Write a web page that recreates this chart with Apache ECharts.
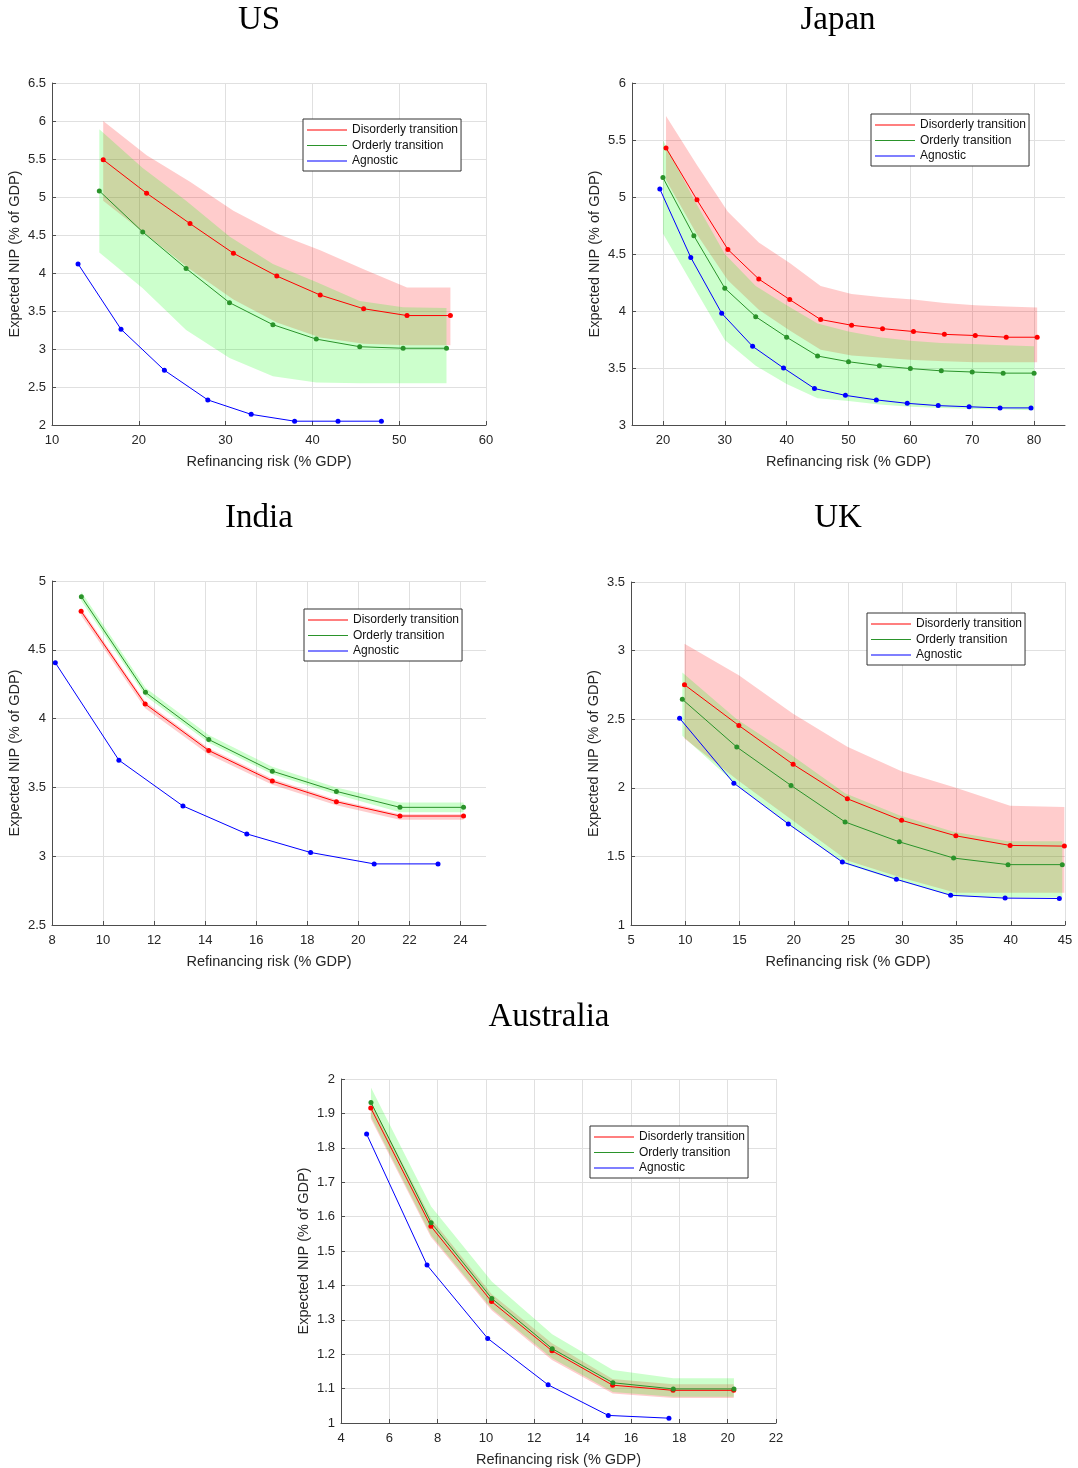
<!DOCTYPE html>
<html>
<head>
<meta charset="utf-8">
<script src="https://cdn.jsdelivr.net/npm/echarts@6/dist/echarts.min.js"></script>
<style>html,body{margin:0;padding:0;background:#fff}#c{width:1078px;height:1468px}</style>
</head>
<body>
<div id="c"></div>
<script>
// ---------- DATA ----------
const seriesNames = ['Disorderly transition', 'Orderly transition', 'Agnostic'];
const panelTitles = ['US', 'Japan', 'India', 'UK', 'Australia'];
const xAxisName = 'Refinancing risk (% GDP)';
const yAxisName = 'Expected NIP (% of GDP)';

// US
const usDisX = [15.9, 20.9, 25.9, 30.9, 35.9, 40.9, 45.9, 50.9, 55.9];
const usDisY = [5.49, 5.05, 4.65, 4.26, 3.96, 3.71, 3.53, 3.44, 3.44];
const usDisHi = [6.00, 5.55, 5.20, 4.82, 4.52, 4.30, 4.05, 3.81, 3.81];
const usDisLo = [4.95, 4.50, 4.05, 3.65, 3.35, 3.15, 3.07, 3.05, 3.05];
const usOrdX = [15.45, 20.45, 25.45, 30.45, 35.45, 40.45, 45.45, 50.45, 55.45];
const usOrdY = [5.08, 4.54, 4.06, 3.61, 3.32, 3.13, 3.03, 3.01, 3.01];
const usOrdHi = [5.89, 5.38, 4.95, 4.48, 4.12, 3.88, 3.63, 3.55, 3.54];
const usOrdLo = [4.27, 3.80, 3.25, 2.88, 2.64, 2.56, 2.55, 2.55, 2.55];
const usAgnX = [13.0, 17.95, 22.95, 27.95, 32.95, 37.95, 42.95, 47.95];
const usAgnY = [4.12, 3.26, 2.72, 2.33, 2.14, 2.05, 2.05, 2.05];

// Japan
const jpDisX = [20.5, 25.5, 30.5, 35.5, 40.5, 45.5, 50.5, 55.5, 60.5, 65.5, 70.5, 75.5, 80.5];
const jpDisY = [5.43, 4.975, 4.54, 4.28, 4.10, 3.925, 3.875, 3.845, 3.82, 3.795, 3.785, 3.77, 3.77];
const jpDisHi = [5.71, 5.28, 4.87, 4.60, 4.42, 4.22, 4.15, 4.12, 4.10, 4.07, 4.05, 4.04, 4.03];
const jpDisLo = [5.15, 4.67, 4.27, 4.01, 3.83, 3.66, 3.61, 3.59, 3.57, 3.56, 3.55, 3.55, 3.55];
const jpOrdX = [20, 25, 30, 35, 40, 45, 50, 55, 60, 65, 70, 75, 80];
const jpOrdY = [5.17, 4.66, 4.20, 3.95, 3.77, 3.605, 3.555, 3.52, 3.495, 3.475, 3.465, 3.455, 3.455];
const jpOrdHi = [5.50, 4.98, 4.50, 4.22, 4.05, 3.89, 3.82, 3.77, 3.74, 3.72, 3.71, 3.70, 3.69];
const jpOrdLo = [4.68, 4.21, 3.745, 3.52, 3.36, 3.235, 3.21, 3.18, 3.16, 3.15, 3.14, 3.135, 3.13];
const jpAgnX = [19.5, 24.5, 29.5, 34.5, 39.5, 44.5, 49.5, 54.5, 59.5, 64.5, 69.5, 74.5, 79.5];
const jpAgnY = [5.07, 4.47, 3.98, 3.69, 3.50, 3.32, 3.26, 3.22, 3.19, 3.17, 3.16, 3.15, 3.15];

// India
const inDisX = [9.14, 11.65, 14.14, 16.63, 19.14, 21.63, 24.12];
const inDisY = [4.78, 4.106, 3.768, 3.546, 3.396, 3.292, 3.292];
const inDisHi = [4.80, 4.125, 3.785, 3.562, 3.41, 3.305, 3.305];
const inDisLo = [4.75, 4.075, 3.74, 3.52, 3.37, 3.265, 3.265];
const inOrdX = [9.15, 11.66, 14.14, 16.63, 19.14, 21.63, 24.12];
const inOrdY = [4.886, 4.191, 3.848, 3.618, 3.471, 3.355, 3.355];
const inOrdHi = [4.92, 4.225, 3.88, 3.65, 3.50, 3.39, 3.39];
const inOrdLo = [4.855, 4.165, 3.825, 3.595, 3.448, 3.32, 3.32];
const inAgnX = [8.13, 10.62, 13.13, 15.63, 18.13, 20.62, 23.12];
const inAgnY = [4.406, 3.698, 3.365, 3.162, 3.027, 2.944, 2.944];

// UK
const ukDisX = [9.93, 14.94, 19.94, 24.94, 29.94, 34.94, 39.94, 44.94];
const ukDisY = [2.751, 2.454, 2.171, 1.920, 1.763, 1.650, 1.580, 1.575];
const ukDisHi = [3.05, 2.82, 2.54, 2.30, 2.12, 2.00, 1.87, 1.86];
const ukDisLo = [2.36, 2.05, 1.76, 1.47, 1.345, 1.235, 1.235, 1.235];
const ukOrdX = [9.73, 14.75, 19.75, 24.73, 29.73, 34.73, 39.75, 44.75];
const ukOrdY = [2.645, 2.297, 2.017, 1.751, 1.606, 1.488, 1.440, 1.440];
const ukOrdHi = [2.84, 2.50, 2.24, 1.96, 1.80, 1.68, 1.61, 1.61];
const ukOrdLo = [2.38, 2.02, 1.72, 1.445, 1.32, 1.21, 1.20, 1.20];
const ukAgnX = [9.48, 14.48, 19.5, 24.48, 29.46, 34.46, 39.48, 44.48];
const ukAgnY = [2.507, 2.034, 1.737, 1.459, 1.333, 1.217, 1.196, 1.193];

// Australia
const auDisX = [5.23, 7.72, 10.23, 12.73, 15.24, 17.74, 20.25];
const auDisY = [1.916, 1.572, 1.353, 1.210, 1.110, 1.095, 1.095];
const auDisHi = [1.935, 1.595, 1.375, 1.232, 1.128, 1.113, 1.113];
const auDisLo = [1.885, 1.541, 1.328, 1.183, 1.086, 1.073, 1.073];
const auOrdX = [5.24, 7.73, 10.24, 12.74, 15.25, 17.75, 20.26];
const auOrdY = [1.932, 1.582, 1.362, 1.216, 1.117, 1.099, 1.099];
const auOrdHi = [1.975, 1.629, 1.411, 1.258, 1.154, 1.130, 1.130];
const auOrdLo = [1.89, 1.545, 1.332, 1.188, 1.09, 1.076, 1.076];
const auAgnX = [5.06, 7.56, 10.07, 12.57, 15.06, 17.57];
const auAgnY = [1.840, 1.459, 1.246, 1.111, 1.022, 1.014];

// Axis tick values
const jpXTicks = [20, 30, 40, 50, 60, 70, 80];
const inXTicks = [8, 10, 12, 14, 16, 18, 20, 22, 24];

// ---------- LAYOUT / STYLE ----------
const FONT = 'Liberation Sans, Arial, Helvetica, sans-serif';
const SERIF = 'Liberation Serif, Times New Roman, serif';
const RED = '#ff0000', GREEN = '#2a932a', BLUE = '#0000ff';
const RED_BAND = 'rgba(255,0,0,0.2)', GREEN_BAND = 'rgba(0,255,0,0.2)';

const panels = [
  { grid: {left: 52, top: 83, width: 434, height: 342}, x: {min: 10, max: 60, interval: 10}, y: {min: 2, max: 6.5, interval: 0.5},
    legend: {left: 303, top: 119}, title: {x: 259, y: 20},
    dis: [usDisX, usDisY, usDisLo, usDisHi], ord: [usOrdX, usOrdY, usOrdLo, usOrdHi], agn: [usAgnX, usAgnY] },
  { grid: {left: 632, top: 83, width: 433, height: 342}, x: {min: 15, max: 85, custom: jpXTicks}, y: {min: 3, max: 6, interval: 0.5},
    legend: {left: 871, top: 114}, title: {x: 838, y: 20},
    dis: [jpDisX, jpDisY, jpDisLo, jpDisHi], ord: [jpOrdX, jpOrdY, jpOrdLo, jpOrdHi], agn: [jpAgnX, jpAgnY] },
  { grid: {left: 52, top: 581, width: 434, height: 344}, x: {min: 8, max: 25, custom: inXTicks}, y: {min: 2.5, max: 5, interval: 0.5},
    legend: {left: 304, top: 609}, title: {x: 259, y: 518},
    dis: [inDisX, inDisY, inDisLo, inDisHi], ord: [inOrdX, inOrdY, inOrdLo, inOrdHi], agn: [inAgnX, inAgnY] },
  { grid: {left: 631, top: 582, width: 434, height: 343}, x: {min: 5, max: 45, interval: 5}, y: {min: 1, max: 3.5, interval: 0.5},
    legend: {left: 867, top: 613}, title: {x: 838, y: 518},
    dis: [ukDisX, ukDisY, ukDisLo, ukDisHi], ord: [ukOrdX, ukOrdY, ukOrdLo, ukOrdHi], agn: [ukAgnX, ukAgnY] },
  { grid: {left: 341, top: 1079, width: 435, height: 344}, x: {min: 4, max: 22, interval: 2}, y: {min: 1, max: 2, interval: 0.1},
    legend: {left: 590, top: 1126}, title: {x: 549, y: 1017},
    dis: [auDisX, auDisY, auDisLo, auDisHi], ord: [auOrdX, auOrdY, auOrdLo, auOrdHi], agn: [auAgnX, auAgnY] }
];

const AXIS_COLOR = '#4d4d4d', LABEL_COLOR = '#262626', GRID_COLOR = '#e0e0e0';

function zip(xs, ys) { return xs.map((x, i) => [x, ys[i]]); }

function band(idx, xs, lo, hi, color) {
  return {
    type: 'custom', xAxisIndex: idx, yAxisIndex: idx, silent: true, z: 1,
    data: xs.map((x, i) => [x, lo[i], hi[i]]),
    encode: {x: 0, y: [1, 2]},
    clip: true,
    renderItem: function (params, api) {
      if (params.dataIndex !== 0) return null;
      const pts = [];
      for (let i = 0; i < xs.length; i++) pts.push(api.coord([xs[i], hi[i]]));
      for (let i = xs.length - 1; i >= 0; i--) pts.push(api.coord([xs[i], lo[i]]));
      return { type: 'polygon', shape: {points: pts}, style: {fill: color, stroke: null, lineWidth: 0} };
    }
  };
}

function line(idx, name, xs, ys, color) {
  return {
    type: 'line', name: name, xAxisIndex: idx, yAxisIndex: idx, z: 3,
    data: zip(xs, ys), symbol: 'circle', symbolSize: 5, showSymbol: true,
    lineStyle: {width: 1, color: color}, itemStyle: {color: color},
    emphasis: {disabled: true}
  };
}

const grid = [], xAxis = [], yAxis = [], series = [], legend = [], graphic = [];

panels.forEach((p, i) => {
  grid.push(Object.assign({containLabel: false}, p.grid));
  const xa = {
    type: 'value', gridIndex: i, min: p.x.min, max: p.x.max,
    name: xAxisName, nameLocation: 'middle', nameGap: 29,
    nameTextStyle: {fontFamily: FONT, fontSize: 14.5, color: LABEL_COLOR},
    axisLine: {show: true, onZero: false, lineStyle: {color: AXIS_COLOR, width: 1}},
    axisTick: {show: true, inside: true, length: 4, lineStyle: {color: AXIS_COLOR}},
    axisLabel: {fontFamily: FONT, fontSize: 13, color: LABEL_COLOR, margin: 9},
    splitLine: {show: true, lineStyle: {color: GRID_COLOR, width: 1}}
  };
  if (p.x.custom) {
    xa.axisTick.customValues = p.x.custom;
    xa.axisLabel.customValues = p.x.custom;
  } else {
    xa.interval = p.x.interval;
  }
  xAxis.push(xa);
  yAxis.push({
    type: 'value', gridIndex: i, min: p.y.min, max: p.y.max, interval: p.y.interval,
    name: yAxisName, nameLocation: 'middle', nameGap: 30, nameRotate: 90,
    nameTextStyle: {fontFamily: FONT, fontSize: 14.5, color: LABEL_COLOR},
    axisLine: {show: true, onZero: false, lineStyle: {color: AXIS_COLOR, width: 1}},
    axisTick: {show: true, inside: true, length: 4, lineStyle: {color: AXIS_COLOR}},
    axisLabel: {fontFamily: FONT, fontSize: 13, color: LABEL_COLOR, margin: 6},
    splitLine: {show: true, lineStyle: {color: GRID_COLOR, width: 1}}
  });
  series.push(band(i, p.dis[0], p.dis[2], p.dis[3], RED_BAND));
  series.push(band(i, p.ord[0], p.ord[2], p.ord[3], GREEN_BAND));
  series.push(line(i, seriesNames[0], p.dis[0], p.dis[1], RED));
  series.push(line(i, seriesNames[1], p.ord[0], p.ord[1], GREEN));
  series.push(line(i, seriesNames[2], p.agn[0], p.agn[1], BLUE));
  legend.push({
    orient: 'vertical', left: p.legend.left, top: p.legend.top,
    data: seriesNames.map(n => ({name: n, icon: 'rect'})),
    itemWidth: 40, itemHeight: 1, itemGap: 1.5,
    padding: [4, 3, 3, 4], borderColor: '#333', borderWidth: 1, backgroundColor: '#fff',
    selectedMode: false, z: 10,
    textStyle: {fontFamily: FONT, fontSize: 12, color: '#111', lineHeight: 14}
  });
  graphic.push({
    type: 'text', x: p.title.x, y: p.title.y,
    style: {text: panelTitles[i], fill: '#000', font: '33px ' + SERIF, align: 'center', verticalAlign: 'middle'}
  });
});

const chart = echarts.init(document.getElementById('c'), null, {renderer: 'canvas'});
chart.setOption({
  animation: false,
  backgroundColor: '#fff',
  grid: grid, xAxis: xAxis, yAxis: yAxis, series: series, legend: legend, graphic: graphic
});
</script>
</body>
</html>
